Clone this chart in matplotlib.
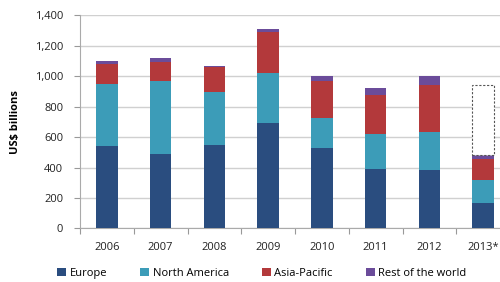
import matplotlib.pyplot as plt
import numpy as np

years = ["2006", "2007", "2008", "2009", "2010", "2011", "2012", "2013*"]
europe = [540, 490, 550, 690, 530, 390, 385, 168]
north_america = [410, 480, 345, 328, 195, 228, 245, 150]
asia_pacific = [130, 125, 165, 270, 240, 260, 310, 135]
rest_of_world = [20, 22, 8, 20, 38, 42, 64, 26]
forecast_2013 = 466  # dashed box remainder for 2013

series = [
    ("Europe", europe, "#2a4d7f"),
    ("North America", north_america, "#3c9cb8"),
    ("Asia-Pacific", asia_pacific, "#b3393b"),
    ("Rest of the world", rest_of_world, "#6b4c9a"),
]

plt.rcParams["font.family"] = ["Open Sans", "DejaVu Sans"]

fig = plt.figure(figsize=(5, 2.82), dpi=100)
ax = fig.add_axes([0.16, 0.19, 0.86, 0.756])

x = np.arange(len(years))
bottom = np.zeros(len(years))
for name, vals, color in series:
    ax.bar(x, vals, width=0.4, bottom=bottom, color=color, label=name, zorder=3)
    bottom += np.array(vals)

ax.bar(x[-1], forecast_2013, width=0.4, bottom=bottom[-1], facecolor="white",
       edgecolor="#555555", linestyle=(0, (2, 1.5)), linewidth=0.8, zorder=3)

ax.set_ylim(0, 1400)
ax.set_xlim(-0.5, len(years) - 0.5)
ax.set_yticks(range(0, 1401, 200))
ax.set_yticklabels([f"{v:,}" for v in range(0, 1401, 200)], fontsize=8, color="#222222")
ax.yaxis.grid(True, color="#d0d0d0", linewidth=1, zorder=0)

ax.set_xticks(np.arange(-0.5, len(years), 1.0))
ax.set_xticklabels([])
ax.tick_params(axis="x", which="major", length=4, color="#999999")
ax.set_xticks(x, minor=True)
ax.set_xticklabels(years, minor=True, fontsize=8, color="#222222")
ax.tick_params(axis="x", which="minor", length=0, pad=10)
ax.tick_params(axis="y", length=4, color="#999999", pad=8)

for side in ["top", "right"]:
    ax.spines[side].set_visible(False)
for side in ["left", "bottom"]:
    ax.spines[side].set_color("#aaaaaa")

ax.set_ylabel("US$ billions", fontsize=8, fontweight="bold", labelpad=10)

ax.legend(loc="center", bbox_to_anchor=(0.524, 0.03), bbox_transform=fig.transFigure,
          ncol=4, frameon=False, fontsize=8, handlelength=0.8, handleheight=0.8,
          handletextpad=0.3, columnspacing=3.0)

fig.savefig("out.png", dpi=100)
